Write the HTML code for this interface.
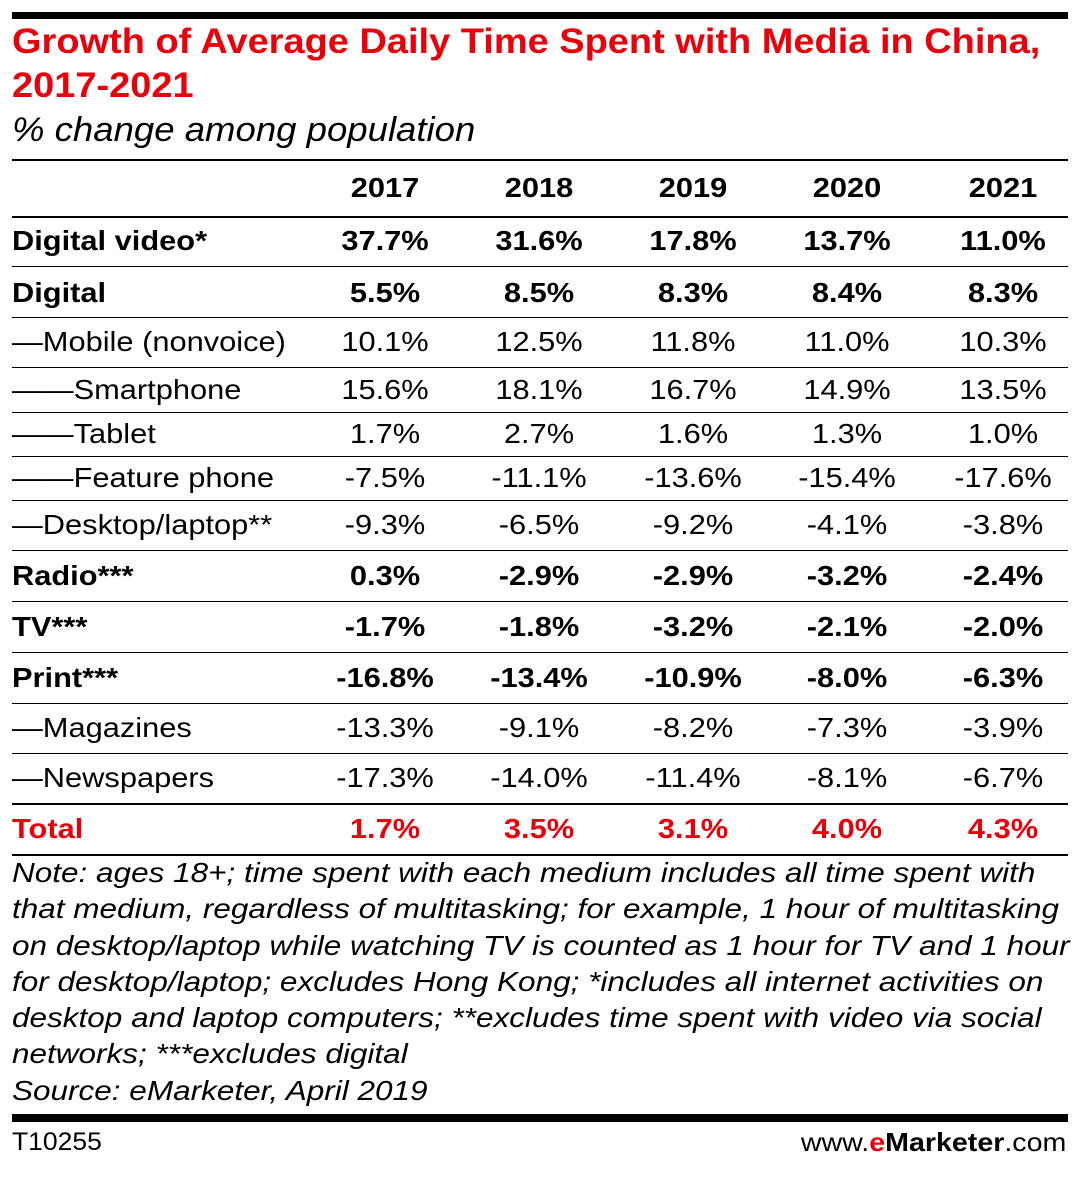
<!DOCTYPE html>
<html><head><meta charset="utf-8"><style>
body{margin:0;background:#fff;width:1080px;height:1187px;position:relative;overflow:hidden;font-family:"Liberation Sans",sans-serif;color:#000}
.a{position:absolute;white-space:nowrap}
.hl{position:absolute;left:12px;width:1056px;background:#000}
.cell{position:absolute;width:150px;text-align:center;font-size:28px;white-space:nowrap;transform:scaleX(1.1)}
.lab{position:absolute;left:12px;font-size:28px;white-space:nowrap;transform:scaleX(1.1);transform-origin:0 0}
.b{font-weight:bold}
.note{position:absolute;left:12px;font-size:28px;font-style:italic;white-space:nowrap;transform:scaleX(1.125);transform-origin:0 0}
</style></head><body>
<div class="hl" style="top:12px;height:7px"></div>
<div class="a b" style="left:12px;top:20px;font-size:35px;color:#e8000b;line-height:44px;transform:scaleX(1.085);transform-origin:0 0">Growth of Average Daily Time Spent with Media in China,<br>2017-2021</div>
<div class="a" style="left:12px;top:111px;font-size:34px;font-style:italic;transform:scaleX(1.075);transform-origin:0 0">% change among population</div>
<div class="hl" style="top:159px;height:2px"></div>
<div id="tbl"></div>
<div class="note" style="top:855px;line-height:36.3px">Note: ages 18+; time spent with each medium includes all time spent with<br>that medium, regardless of multitasking; for example, 1 hour of multitasking<br>on desktop/laptop while watching TV is counted as 1 hour for TV and 1 hour<br>for desktop/laptop; excludes Hong Kong; *includes all internet activities on<br>desktop and laptop computers; **excludes time spent with video via social<br>networks; ***excludes digital<br>Source: eMarketer, April 2019</div>
<div class="hl" style="top:1114px;height:8px"></div>
<div class="a" style="left:12px;top:1128px;font-size:25px;transform:scaleX(1.06);transform-origin:0 0">T10255</div>
<div class="a" style="right:14px;top:1127px;font-size:26px;transform:scaleX(1.1);transform-origin:100% 0">www.<b style="color:#e8000b">e</b><b>Marketer</b>.com</div>
<script>
const years=["2017","2018","2019","2020","2021"];
const labels=["Digital video*","Digital","\u2014Mobile (nonvoice)","\u2014\u2014Smartphone","\u2014\u2014Tablet","\u2014\u2014Feature phone","\u2014Desktop/laptop**","Radio***","TV***","Print***","\u2014Magazines","\u2014Newspapers","Total"];
const v2017=["37.7%","5.5%","10.1%","15.6%","1.7%","-7.5%","-9.3%","0.3%","-1.7%","-16.8%","-13.3%","-17.3%","1.7%"];
const v2018=["31.6%","8.5%","12.5%","18.1%","2.7%","-11.1%","-6.5%","-2.9%","-1.8%","-13.4%","-9.1%","-14.0%","3.5%"];
const v2019=["17.8%","8.3%","11.8%","16.7%","1.6%","-13.6%","-9.2%","-2.9%","-3.2%","-10.9%","-8.2%","-11.4%","3.1%"];
const v2020=["13.7%","8.4%","11.0%","14.9%","1.3%","-15.4%","-4.1%","-3.2%","-2.1%","-8.0%","-7.3%","-8.1%","4.0%"];
const v2021=["11.0%","8.3%","10.3%","13.5%","1.0%","-17.6%","-3.8%","-2.4%","-2.0%","-6.3%","-3.9%","-6.7%","4.3%"];
const boldRows=[true,true,false,false,false,false,false,true,true,true,false,false,true];
const cols=[v2017,v2018,v2019,v2020,v2021];
const colX=[385,539,693,847,1003];
const rowY=[242,294,343,391,435,479,526,577,628,679,729,779,830];
const lineY=[216,266,317,367,412,456,500,550,601,652,703,753,803,854];
const t=document.getElementById('tbl');
function add(cls,txt,x,y,extra){const d=document.createElement('div');d.className=cls;d.textContent=txt;d.style.left=x+'px';d.style.top=(y-17)+'px';if(extra)d.style.cssText+=extra;t.appendChild(d);return d;}
years.forEach((yy,i)=>{const d=add('cell b',yy,colX[i]-75,189);

});
lineY.forEach((y,i)=>{const d=document.createElement('div');d.className='hl';d.style.top=y+'px';d.style.height=(i==0||i==lineY.length-1||i==lineY.length-2)?'2px':'1px';

t.appendChild(d);});
labels.forEach((lab,r)=>{const red=r==labels.length-1?';color:#e8000b':'';const b=boldRows[r]?' b':'';
const d=add('lab'+b,lab,12,rowY[r],red);


cols.forEach((c,i)=>{const e=add('cell'+b,c[r],colX[i]-75,rowY[r],red);

});});
</script>
</body></html>
